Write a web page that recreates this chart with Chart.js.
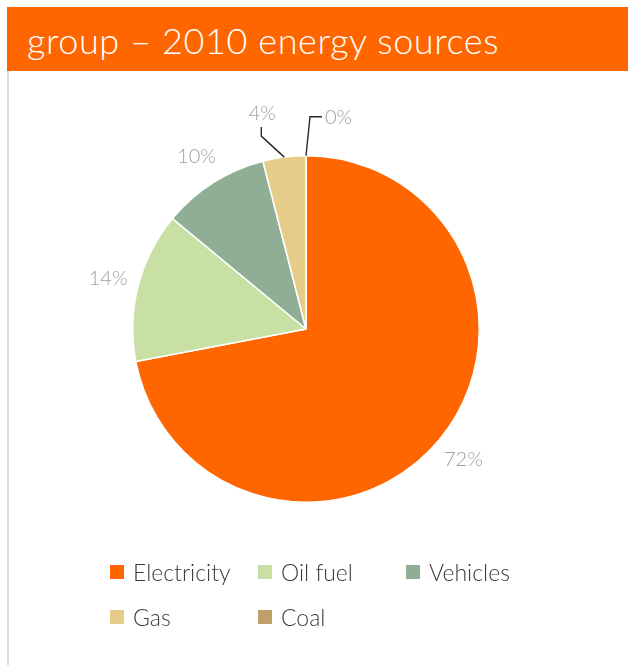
<!DOCTYPE html>
<html>
<head>
<meta charset="utf-8">
<script src="https://cdn.jsdelivr.net/npm/chart.js@4/dist/chart.umd.min.js"></script>
<style>
  html, body { margin: 0; padding: 0; background: #fff; }
  body { width: 628px; height: 665px; position: relative; overflow: hidden; font-family: Lato, "Liberation Sans", sans-serif; }
  #header {
    position: absolute; left: 7px; top: 7px; width: 621px; height: 64px;
    background: #ff6600; color: #fff; font-weight: 300; font-size: 36px; letter-spacing: 0.6px;
    line-height: 66px; padding-left: 20px; box-sizing: border-box; white-space: nowrap;
  }
  #rule { position: absolute; left: 7px; top: 71px; width: 2px; height: 594px; background: #d9d9d9; }
  #wrap { position: absolute; left: 8px; top: 72px; width: 596px; height: 514px; }
  #legend {
    position: absolute; left: 110px; top: 558px;
    display: grid; grid-template-columns: 148px 148px 148px; row-gap: 17px;
  }
  .item { display: flex; align-items: center; font-size: 23px; font-weight: 300; color: #3a3a3a; height: 28px; }
  .box { width: 14px; height: 14px; margin-right: 9px; }
</style>
</head>
<body>
<div id="header">group – 2010 energy sources</div>
<div id="rule"></div>
<div id="wrap"><canvas id="pie"></canvas></div>
<div id="legend"></div>
<script>
const categories = ['Electricity', 'Oil fuel', 'Vehicles', 'Gas', 'Coal'];
const shares = [72, 14, 10, 4, 0];
const colors = ['#ff6600', '#c9e0a5', '#8fae95', '#e5cc88', '#c0a068'];

// percent labels outside the pie; small slices get an elbow leader line
const outsideLabels = {
  id: 'outsideLabels',
  afterDatasetsDraw(chart) {
    const ctx = chart.ctx;
    const meta = chart.getDatasetMeta(0);
    ctx.save();
    ctx.font = '300 20px Lato, "Liberation Sans", sans-serif';
    ctx.fillStyle = '#9e9e9e';
    ctx.textBaseline = 'middle';
    meta.data.forEach((arc, i) => {
      const v = chart.data.datasets[0].data[i];
      const mid = (arc.startAngle + arc.endAngle) / 2;
      const dx = Math.cos(mid), dy = Math.sin(mid);
      const r = arc.outerRadius;
      const text = v + '%';
      if (v >= 5) {
        ctx.textAlign = 'center';
        ctx.fillText(text, arc.x + dx * (r + 31), arc.y + dy * (r + 31));
        return;
      }
      const sx = arc.x + dx * r, sy = arc.y + dy * r;
      ctx.strokeStyle = '#2a2a2a';
      ctx.lineWidth = 1.4;
      ctx.beginPath();
      ctx.moveTo(sx, sy);
      if (v > 0) {
        ctx.lineTo(sx - 23, sy - 21);
        ctx.lineTo(sx - 23, sy - 30);
        ctx.stroke();
        ctx.textAlign = 'center';
        ctx.fillText(text, sx - 22, sy - 44);
      } else {
        ctx.lineTo(sx + 4, sy - 39);
        ctx.lineTo(sx + 16, sy - 39);
        ctx.stroke();
        ctx.textAlign = 'left';
        ctx.fillText(text, sx + 19, sy - 38);
      }
    });
    ctx.restore();
  }
};

const chart = new Chart(document.getElementById('pie'), {
  type: 'pie',
  data: {
    labels: categories,
    datasets: [{
      data: shares,
      backgroundColor: colors,
      borderColor: '#ffffff',
      borderWidth: 1.5
    }]
  },
  options: {
    responsive: true,
    maintainAspectRatio: false,
    animation: false,
    layout: { padding: 83 },
    plugins: {
      legend: { display: false },
      tooltip: { enabled: false }
    }
  },
  plugins: [outsideLabels]
});

// legend in fixed columns
const legendEl = document.getElementById('legend');
categories.forEach((name, i) => {
  const item = document.createElement('div');
  item.className = 'item';
  const box = document.createElement('span');
  box.className = 'box';
  box.style.background = colors[i];
  item.appendChild(box);
  item.appendChild(document.createTextNode(name));
  legendEl.appendChild(item);
});
</script>
</body>
</html>
